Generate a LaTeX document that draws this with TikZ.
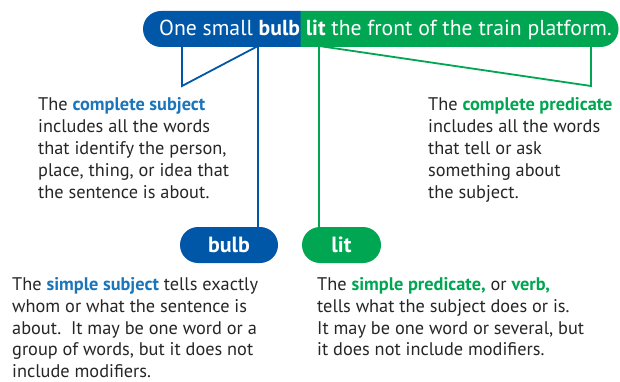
\documentclass[tikz,border=0pt]{standalone}
\usepackage{fontspec}
\setmainfont{PT Sans}
\usetikzlibrary{shapes.misc}
\definecolor{subjblue}{HTML}{0057A8}
\definecolor{subjtext}{HTML}{1B75BB}
\definecolor{predgreen}{HTML}{00A651}
\definecolor{bodytext}{HTML}{262626}
\begin{document}
\begin{tikzpicture}[x=1pt,y=-1pt,
  bar/.style={rounded rectangle, minimum height=36pt, inner sep=0pt, outer sep=0pt},
  pill/.style={rounded rectangle, minimum height=36pt, inner sep=0pt, outer sep=0pt,
    text=white, font=\fontsize{22}{22}\selectfont\bfseries},
  note/.style={anchor=north west, align=left, text=bodytext, inner sep=0pt,
    font=\fontsize{18.3}{22}\selectfont},
  lownote/.style={note, font=\fontsize{18.3}{21.7}\selectfont},
  bline/.style={draw=subjblue, line width=1.8pt},
  gline/.style={draw=predgreen, line width=1.8pt},
]
\useasboundingbox (0,0) rectangle (620,382);

% sentence bar: subject half and predicate half
\node[bar, fill=subjblue, rounded rectangle east arc=none, minimum width=158pt, anchor=west] (sbar) at (143,29) {};
\node[bar, fill=predgreen, rounded rectangle west arc=none, minimum width=318pt, anchor=west] (pbar) at (300.5,29) {};
\node[anchor=base west, inner sep=0pt, text=white, font=\fontsize{21.7}{22}\selectfont] (sent) at (159,35.5)
  {One small \textbf{bulb} \textbf{lit} the front of the train platform.};

% simple subject / simple predicate pills
\node[pill, fill=subjblue, minimum width=98pt] (bulb) at (229,245) {bulb};
\node[pill, fill=predgreen, minimum width=79pt] (lit) at (341.5,245) {lit};

% bracket lines
\coordinate (sL) at (182,46);
\coordinate (sV) at (182,86);
\coordinate (sR) at (258,46);
\coordinate (pL) at (319,46);
\coordinate (pV) at (591,86);
\coordinate (pR) at (591,46);
\draw[bline] (sL) -- (sV) -- (sR) -- (sR |- bulb.north);
\draw[gline] (pL |- lit.north) -- (pL) -- (pV) -- (pR);

% explanations
\node[note] (cs) at (38,97.5)
  {The \textcolor{subjtext}{\bfseries complete subject}\\includes all the words\\that identify the person,\\place, thing, or idea that\\the sentence is about.};
\node[note] (cp) at (428,97.5)
  {The \textcolor{predgreen}{\bfseries complete predicate}\\includes all the words\\that tell or ask\\something about\\the subject.};
\node[lownote] (ss) at (12,277.5)
  {The \textcolor{subjtext}{\bfseries simple subject} tells exactly\\whom or what the sentence is\\about.\ \ It may be one word or a\\group of words, but it does not\\include modifiers.};
\node[lownote] (sp) at (317,277.5)
  {The \textcolor{predgreen}{\bfseries simple predicate,} or \textcolor{predgreen}{\bfseries verb,}\\tells what the subject does or is.\\It may be one word or several, but\\it does not include modifiers.};
\end{tikzpicture}
\end{document}
